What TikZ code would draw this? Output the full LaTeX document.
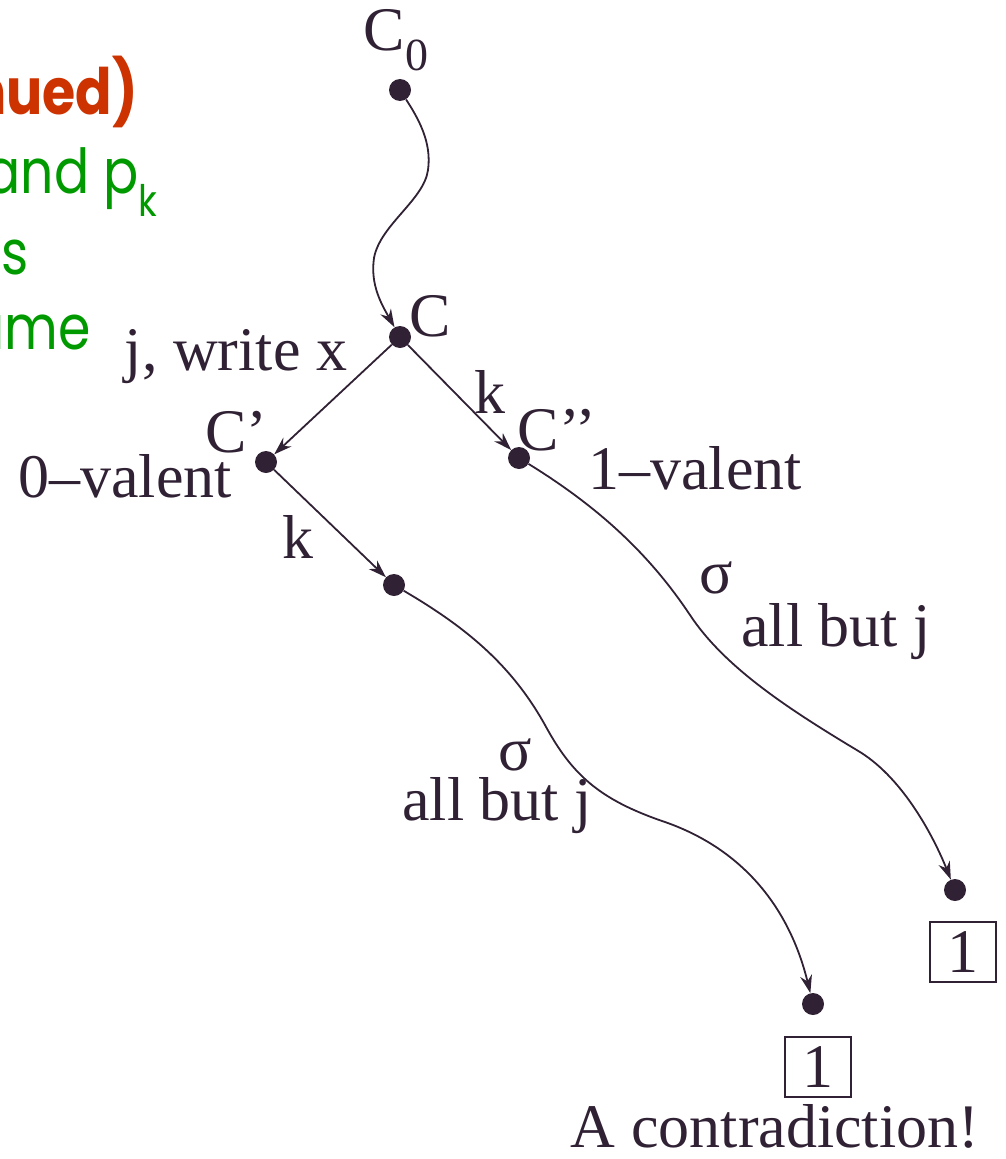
\documentclass[tikz,border=0pt]{standalone}
\usepackage{fontspec}
\setmainfont{Liberation Serif}
\newfontfamily\comic{Poppins}
\usetikzlibrary{arrows.meta}
\definecolor{ink}{RGB}{48,34,52}
\definecolor{titlered}{RGB}{204,51,0}
\definecolor{slidegreen}{RGB}{0,153,0}
\newcommand{\narrow}[1]{\scalebox{0.84}[1]{#1}}
\begin{document}
\begin{tikzpicture}[x=1pt,y=-1pt,
  dot/.style={circle,fill=ink,inner sep=0pt,minimum size=22pt},
  lbl/.style={text=ink,inner sep=0pt,font=\fontsize{62}{70}\selectfont},
  conn/.style={draw=ink,line width=1.8pt,-{Stealth[length=18pt,width=12pt]}},
  onebox/.style={draw=ink,line width=1.6pt,text=ink,minimum width=66pt,minimum height=60pt,inner sep=0pt,font=\fontsize{62}{70}\selectfont},
  slide/.style={inner sep=0pt,anchor=east,font=\comic\fontsize{62}{70}\selectfont}]
\useasboundingbox (0,0) rectangle (1005,1159);
\clip (0,0) rectangle (1005,1159);
% slide text fragments
\node[slide,text=titlered,font=\comic\bfseries\fontsize{64}{70}\selectfont] (t1) at (138,92) {\narrow{nued)}};
\node[slide,text=slidegreen] (t2) at (158,182) {\narrow{and p\textsubscript{k}}};
\node[slide,text=slidegreen] (t3) at (29,258) {\narrow{s}};
\node[slide,text=slidegreen] (t4) at (91,332) {\narrow{ame}};
% dots
\node[dot] (c0) at (400,90) {};
\node[dot] (c) at (400,337) {};
\node[dot] (cp) at (266,462) {};
\node[dot] (cpp) at (519,458) {};
\node[dot] (d1) at (394,585) {};
\node[dot] (d2) at (955,890) {};
\node[dot] (d3) at (813,1004) {};
% labels
\node[lbl] (lc0) at (396,40) {C\raisebox{-0.32em}{\fontsize{46}{50}\selectfont 0}};
\node[lbl] (lc) at (430,316) {C};
\node[lbl] (lcp) at (236,432) {C’};
\node[lbl] (lcpp) at (557,430) {C’’};
\node[lbl] (ljw) at (236,357) {j, write x};
\node[lbl] (l0v) at (125,476) {0–valent};
\node[lbl] (lk1) at (490,392) {k};
\node[lbl] (l1v) at (695,468) {1–valent};
\node[lbl] (lk2) at (298,537) {k};
\node[lbl] (ls1) at (716,578) {σ};
\node[lbl] (lab1) at (836,632) {all but j};
\node[lbl] (ls2) at (515,755) {σ};
\node[lbl] (lab2) at (497,806) {all but j};
\node[onebox] (b1) at (963,952) {1};
\node[onebox] (b2) at (818,1067) {1};
\node[lbl] (lcon) at (775,1126) {A contradiction!};
% connectors
\draw[conn] (c0) .. controls (418,118) and (432,142) .. (428,170)
  .. controls (424,200) and (380,225) .. (374,258)
  .. controls (370,285) and (382,305) .. (c);
\draw[conn] (c) -- (cp);
\draw[conn] (c) -- (cpp);
\draw[conn] (cp) -- (d1);
\draw[conn] (cpp) .. controls (600,508) and (650,555) .. (690,615)
  .. controls (725,668) and (790,710) .. (860,752)
  .. controls (905,780) and (935,840) .. (d2);
\draw[conn] (d1) .. controls (462,625) and (510,662) .. (545,725)
  .. controls (572,775) and (600,800) .. (665,822)
  .. controls (745,850) and (790,910) .. (d3);
\end{tikzpicture}
\end{document}
